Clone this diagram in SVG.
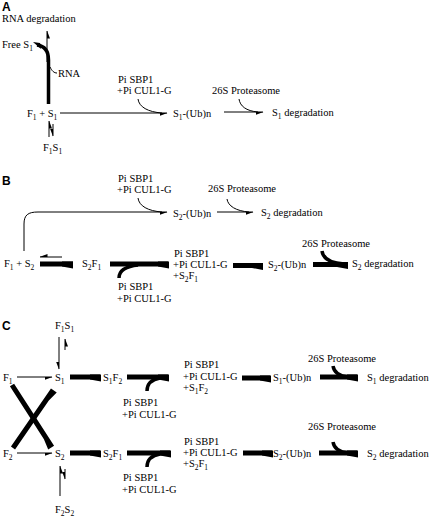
<svg xmlns="http://www.w3.org/2000/svg" width="430" height="517" viewBox="0 0 430 517">
<style>
.t{font-family:'Liberation Serif','DejaVu Serif',serif;font-size:10.5px;fill:#000}
.s{font-size:7.5px}
.lbl{font-family:'Liberation Sans','DejaVu Sans',sans-serif;font-weight:bold;font-size:12px;fill:#000}
.thin{fill:none;stroke:#000;stroke-width:1}
.arr{marker-end:url(#h)}
.cat{fill:none;stroke:#000;stroke-width:1}
.tcat{fill:none;stroke:#000;stroke-width:3.5}
.bar{fill:#000}
</style>
<defs>
<marker id="h" markerUnits="userSpaceOnUse" markerWidth="8" markerHeight="6" viewBox="0 -1 8 5" refX="7.5" refY="0" orient="auto">
<path d="M8,0 L0,0 L0,3 Z" fill="#000"/>
</marker>
<path id="tb" d="M-10,-2.5 L1,-2.5 L1,4.5 L-10,2.5 Z"/>
</defs>
<rect width="430" height="517" fill="#fff"/>

<!-- Panel labels -->
<text class="lbl" x="2" y="11">A</text>
<text class="lbl" x="2" y="185">B</text>
<text class="lbl" x="2" y="330">C</text>

<g font-family="Liberation Serif, DejaVu Serif, serif">
<!-- Panel A nodes -->
<g id="a-rnadeg"><text class="t" x="2" y="22">RNA degradation</text></g>
<g id="a-frees1"><text class="t" x="2" y="48">Free S<tspan class="s" dy="2.5">1</tspan></text></g>
<g id="a-rna"><text class="t" x="58" y="77">RNA</text></g>
<g id="a-f1s1"><text class="t" x="27" y="117">F<tspan class="s" dy="2.5">1</tspan><tspan dy="-2.5"> + S</tspan><tspan class="s" dy="2.5">1</tspan></text></g>
<g id="a-complex"><text class="t" x="43" y="151">F<tspan class="s" dy="2.5">1</tspan><tspan dy="-2.5">S</tspan><tspan class="s" dy="2.5">1</tspan></text></g>
<g id="a-cat"><text class="t" x="118" y="83">Pi SBP1</text><text class="t" x="117" y="94">+Pi CUL1-G</text></g>
<g id="a-ub"><text class="t" x="173" y="117">S<tspan class="s" dy="2.5">1</tspan><tspan dy="-2.5">-(Ub)n</tspan></text></g>
<g id="a-prot"><text class="t" x="212" y="94">26S Proteasome</text></g>
<g id="a-deg"><text class="t" x="272" y="116">S<tspan class="s" dy="2.5">1</tspan><tspan dy="-2.5"> degradation</tspan></text></g>

<!-- Panel B nodes -->
<g id="b-cat1"><text class="t" x="118" y="182">Pi SBP1</text><text class="t" x="117" y="193">+Pi CUL1-G</text></g>
<g id="b-prot1"><text class="t" x="208" y="192">26S Proteasome</text></g>
<g id="b-ub1"><text class="t" x="173" y="217">S<tspan class="s" dy="2.5">2</tspan><tspan dy="-2.5">-(Ub)n</tspan></text></g>
<g id="b-deg1"><text class="t" x="261" y="216">S<tspan class="s" dy="2.5">2</tspan><tspan dy="-2.5"> degradation</tspan></text></g>
<g id="b-f1s2"><text class="t" x="4" y="267">F<tspan class="s" dy="2.5">1</tspan><tspan dy="-2.5"> + S</tspan><tspan class="s" dy="2.5">2</tspan></text></g>
<g id="b-s2f1"><text class="t" x="82" y="267">S<tspan class="s" dy="2.5">2</tspan><tspan dy="-2.5">F</tspan><tspan class="s" dy="2.5">1</tspan></text></g>
<g id="b-cat2"><text class="t" x="118" y="290">Pi SBP1</text><text class="t" x="117" y="302">+Pi CUL1-G</text></g>
<g id="b-cat3"><text class="t" x="174" y="257">Pi SBP1</text><text class="t" x="173" y="268">+Pi CUL1-G</text><text class="t" x="173" y="279">+S<tspan class="s" dy="2.5">2</tspan><tspan dy="-2.5">F</tspan><tspan class="s" dy="2.5">1</tspan></text></g>
<g id="b-ub2"><text class="t" x="268" y="268">S<tspan class="s" dy="2.5">2</tspan><tspan dy="-2.5">-(Ub)n</tspan></text></g>
<g id="b-prot2"><text class="t" x="302" y="247">26S Proteasome</text></g>
<g id="b-deg2"><text class="t" x="352" y="267">S<tspan class="s" dy="2.5">2</tspan><tspan dy="-2.5"> degradation</tspan></text></g>

<!-- Panel C nodes -->
<g id="c-f1s1"><text class="t" x="55" y="329">F<tspan class="s" dy="2.5">1</tspan><tspan dy="-2.5">S</tspan><tspan class="s" dy="2.5">1</tspan></text></g>
<g id="c-f1"><text class="t" x="3" y="381">F<tspan class="s" dy="2.5">1</tspan></text></g>
<g id="c-s1"><text class="t" x="55" y="381">S<tspan class="s" dy="2.5">1</tspan></text></g>
<g id="c-s1f2"><text class="t" x="103" y="381">S<tspan class="s" dy="2.5">1</tspan><tspan dy="-2.5">F</tspan><tspan class="s" dy="2.5">2</tspan></text></g>
<g id="c-cat1"><text class="t" x="184" y="368">Pi SBP1</text><text class="t" x="183" y="380">+Pi CUL1-G</text><text class="t" x="183" y="391">+S<tspan class="s" dy="2.5">1</tspan><tspan dy="-2.5">F</tspan><tspan class="s" dy="2.5">2</tspan></text></g>
<g id="c-cat2"><text class="t" x="123" y="406">Pi SBP1</text><text class="t" x="122" y="418">+Pi CUL1-G</text></g>
<g id="c-ub1"><text class="t" x="273" y="381">S<tspan class="s" dy="2.5">1</tspan><tspan dy="-2.5">-(Ub)n</tspan></text></g>
<g id="c-prot1"><text class="t" x="308" y="362">26S Proteasome</text></g>
<g id="c-deg1"><text class="t" x="367" y="381">S<tspan class="s" dy="2.5">1</tspan><tspan dy="-2.5"> degradation</tspan></text></g>
<g id="c-f2"><text class="t" x="3" y="457">F<tspan class="s" dy="2.5">2</tspan></text></g>
<g id="c-s2"><text class="t" x="55" y="457">S<tspan class="s" dy="2.5">2</tspan></text></g>
<g id="c-s2f1"><text class="t" x="103" y="457">S<tspan class="s" dy="2.5">2</tspan><tspan dy="-2.5">F</tspan><tspan class="s" dy="2.5">1</tspan></text></g>
<g id="c-cat3"><text class="t" x="184" y="445">Pi SBP1</text><text class="t" x="183" y="456">+Pi CUL1-G</text><text class="t" x="183" y="467">+S<tspan class="s" dy="2.5">2</tspan><tspan dy="-2.5">F</tspan><tspan class="s" dy="2.5">1</tspan></text></g>
<g id="c-cat4"><text class="t" x="123" y="481">Pi SBP1</text><text class="t" x="122" y="493">+Pi CUL1-G</text></g>
<g id="c-ub2"><text class="t" x="273" y="457">S<tspan class="s" dy="2.5">2</tspan><tspan dy="-2.5">-(Ub)n</tspan></text></g>
<g id="c-prot2"><text class="t" x="308" y="430">26S Proteasome</text></g>
<g id="c-deg2"><text class="t" x="367" y="457">S<tspan class="s" dy="2.5">2</tspan><tspan dy="-2.5"> degradation</tspan></text></g>
<g id="c-f2s2"><text class="t" x="55" y="513">F<tspan class="s" dy="2.5">2</tspan><tspan dy="-2.5">S</tspan><tspan class="s" dy="2.5">2</tspan></text></g>
</g>

<!-- Connectors -->
<g id="connectors">
<!-- Panel A -->
<path class="thin arr" d="M47,62 L47,31"/>
<path class="tcat" d="M48.5,104 L48.5,60 C48.5,51 45,46 37,45"/>
<path class="bar" d="M33,42 L40,43 L41,49 Z"/>
<path class="cat" d="M50,67 C52,71 54,73 57,73"/>
<path class="thin arr" d="M49,137 L49,121"/>
<path class="thin arr" d="M53,124 L53,136"/>
<path class="thin arr" d="M60,113 L167,113"/>
<path class="cat" d="M138,99 C139,107 148,112 162,113"/>
<path class="thin arr" d="M224,112 L263,112"/>
<path class="cat" d="M239,99 C240,106 246,111 258,112"/>

<!-- Panel B -->
<path class="thin arr" d="M24,251 L24,224 C24,215 28,212 38,212 L167,212"/>
<path class="cat" d="M138,198 C139,206 148,211 162,212"/>
<path class="thin arr" d="M217,212 L253,212"/>
<path class="cat" d="M227,199 C228,206 236,211 249,212"/>
<path class="thin arr" d="M62,257 L40,257"/>
<rect x="40" y="261.5" width="33" height="5" class="bar"/>
<use href="#tb" transform="translate(72,264)"/>
<rect x="110" y="261.5" width="58" height="5" class="bar"/>
<use href="#tb" transform="translate(168,264)"/>
<path class="tcat" d="M119,278 C119,271 125,266.5 138,265"/>
<rect x="233" y="263" width="29" height="5" class="bar"/>
<use href="#tb" transform="translate(262,265.5)"/>
<rect x="313" y="262" width="34" height="5" class="bar"/>
<use href="#tb" transform="translate(347,264.5)"/>
<path class="tcat" d="M322,251 C323,258 330,263 344,264"/>

<!-- Panel C -->
<path class="thin arr" d="M59,337 L59,369"/>
<path class="thin arr" d="M65,350 L65,339"/>
<path class="thin arr" d="M17,377 L52,377"/>
<rect x="70" y="374.5" width="30" height="5" class="bar"/>
<use href="#tb" transform="translate(100,377)"/>
<rect x="127" y="374.5" width="41" height="5" class="bar"/>
<use href="#tb" transform="translate(168,377)"/>
<path class="tcat" d="M147,391 C147,384 151,379.5 160,378"/>
<rect x="242" y="375.5" width="28" height="5" class="bar"/>
<use href="#tb" transform="translate(270,378)"/>
<rect x="320" y="374.5" width="37" height="5" class="bar"/>
<use href="#tb" transform="translate(357,377)"/>
<path class="tcat" d="M333,366 C334,372 338,376 348,377"/>

<path d="M0,-2.5 L73.8,-2.5 L73.8,4.5 L62.8,2.5 L0,2.5 Z" class="bar" transform="translate(12,385) rotate(57.2)"/>
<path d="M0,-2.5 L70.5,-2.5 L70.5,4.5 L59.5,2.5 L0,2.5 Z" class="bar" transform="translate(13,448) rotate(-55.4)"/>

<path class="thin arr" d="M17,453 L52,453"/>
<rect x="70" y="450.5" width="30" height="5" class="bar"/>
<use href="#tb" transform="translate(100,453)"/>
<rect x="127" y="450.5" width="43" height="5" class="bar"/>
<use href="#tb" transform="translate(170,453)"/>
<path class="tcat" d="M147,467 C147,460 151,455.5 160,454"/>
<rect x="243" y="450.5" width="29" height="5" class="bar"/>
<use href="#tb" transform="translate(272,453)"/>
<rect x="319" y="450.5" width="38" height="5" class="bar"/>
<use href="#tb" transform="translate(357,453)"/>
<path class="tcat" d="M333,442 C334,448 338,452 348,453"/>
<path class="thin arr" d="M60,496 L60,466"/>
<path class="thin arr" d="M65,469 L65,479"/>
</g>
</svg>
